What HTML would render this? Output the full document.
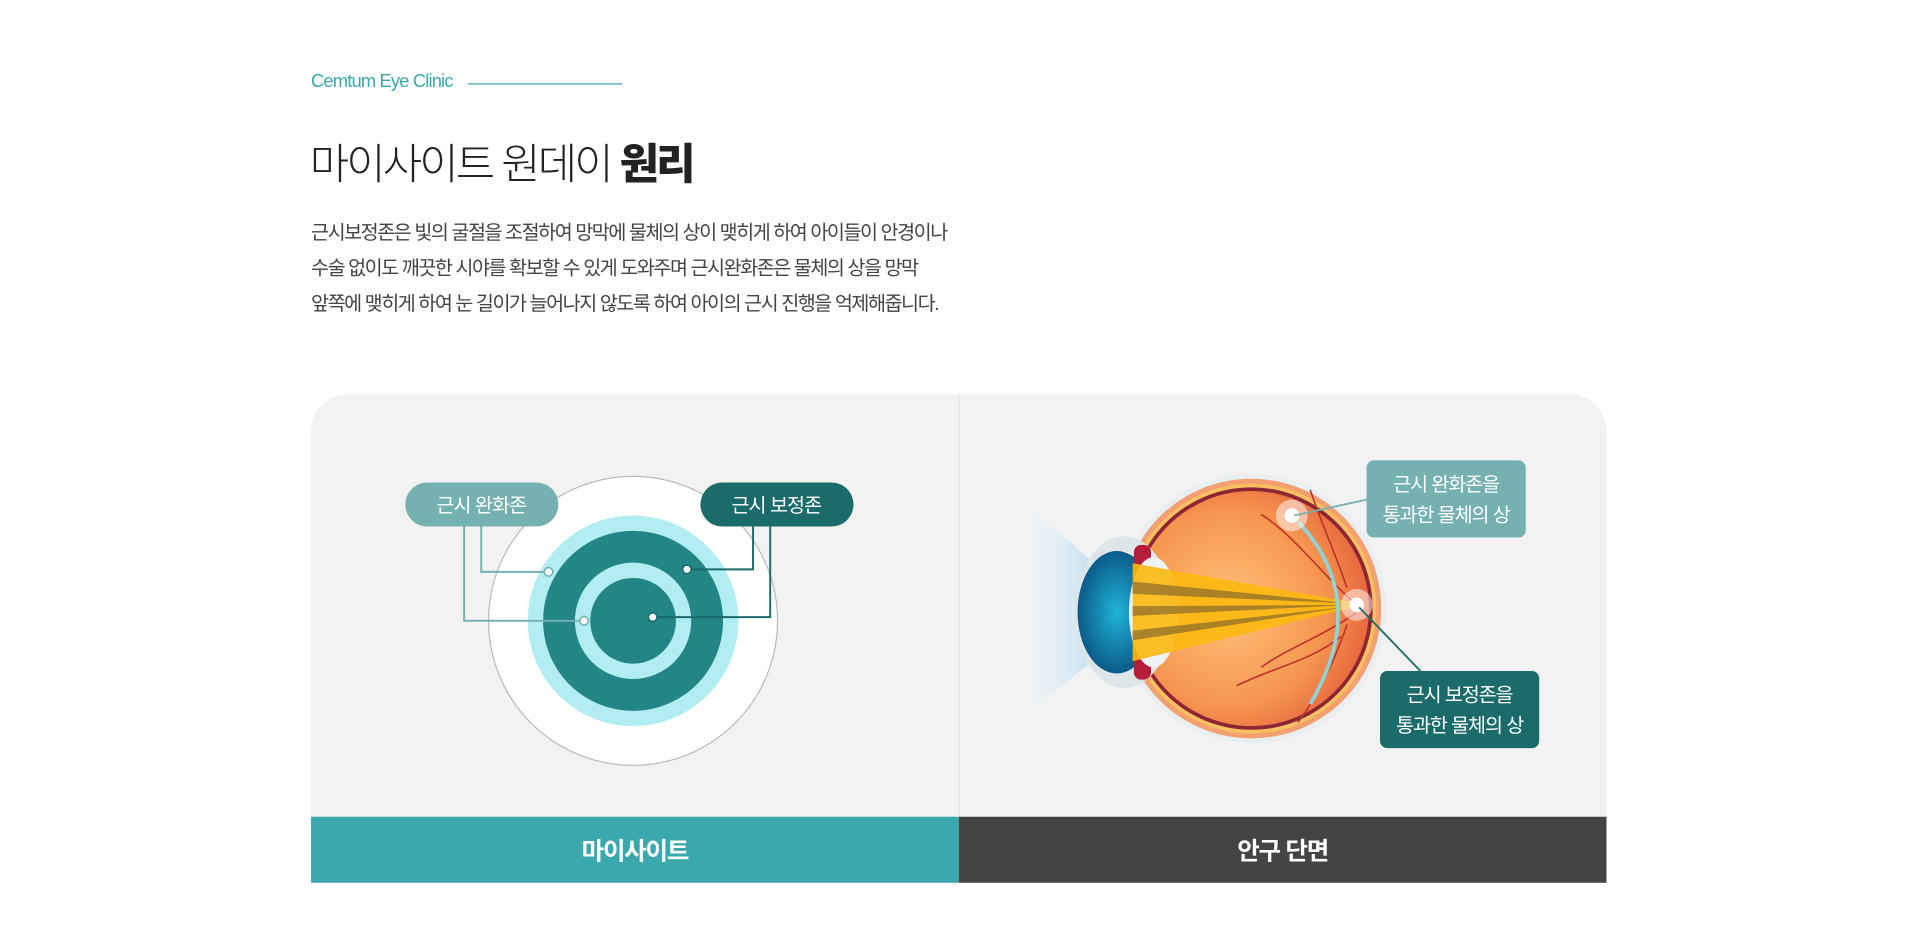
<!DOCTYPE html>
<html><head><meta charset="utf-8"><style>
html,body{margin:0;padding:0;background:#fff;width:1920px;height:924px;overflow:hidden}
#w{position:absolute;left:0;top:0;width:1568px;height:755px;transform:scale(1.22449);transform-origin:0 0;font-family:"Liberation Sans","Noto Sans CJK KR",sans-serif}
.a{position:absolute}
</style></head><body><div id="w">
<div class="a" style="left:254px;top:58px;font-size:15px;color:#3aa8ad;letter-spacing:-0.7px">Cemtum Eye Clinic</div>
<div class="a" style="left:382px;top:68px;width:126px;height:1px;background:#3aa8ad"></div>
<div class="a" style="left:253px;top:106px;font-size:35px;color:#222;font-weight:300;letter-spacing:-2.4px">마이사이트 원데이 <b style="font-weight:900">원리</b></div>
<div class="a" style="left:254px;top:176px;font-size:16px;line-height:29px;color:#444;letter-spacing:-1.2px">근시보정존은 빛의 굴절을 조절하여 망막에 물체의 상이 맺히게 하여 아이들이 안경이나<br>수술 없이도 깨끗한 시야를 확보할 수 있게 도와주며 근시완화존은 물체의 상을 망막<br>앞쪽에 맺히게 하여 눈 길이가 늘어나지 않도록 하여 아이의 근시 진행을 억제해줍니다.</div>
<div class="a" style="left:254px;top:322px;width:1058px;height:399px;background:#f2f2f2;border-radius:30px 30px 0 0;overflow:hidden">
<div class="a" style="left:529px;top:0;width:1px;height:345px;background:#e6e6e6"></div>
<div class="a" style="left:0;top:345px;width:529px;height:54px;background:#3aa8ad;color:#fff;font-size:20px;font-weight:bold;text-align:center;line-height:58px;letter-spacing:-1px">마이사이트</div>
<div class="a" style="left:529px;top:345px;width:529px;height:54px;background:#444;color:#fff;font-size:20px;font-weight:bold;text-align:center;line-height:58px;letter-spacing:-1px">안구 단면</div>
</div>
<svg class="a" style="left:0;top:0" width="1568" height="755" viewBox="0 0 1568 755">
<circle cx="517" cy="507" r="118" fill="#fff" stroke="#bbb" stroke-width="1"/>
<circle cx="517" cy="507" r="86" fill="#b2eef1"/>
<circle cx="517" cy="507" r="73.5" fill="#238585"/>
<circle cx="517" cy="507" r="47.5" fill="#b2eef1"/>
<circle cx="517" cy="507" r="35" fill="#238585"/>
<g fill="none" stroke="#76b1b2" stroke-width="1.6">
<polyline points="393,430 393,467 448,467"/>
<polyline points="379,430 379,507 477,507"/>
</g>
<g fill="none" stroke="#1a6b6a" stroke-width="1.6">
<polyline points="615,430 615,465 561,465"/>
<polyline points="629,430 629,504 533,504"/>
</g>
<circle cx="448" cy="467" r="3.5" fill="#fff" stroke="#76b1b2" stroke-width="1.3"/>
<circle cx="477" cy="507" r="3.5" fill="#fff" stroke="#76b1b2" stroke-width="1.3"/>
<circle cx="561" cy="465" r="3.5" fill="#fff" stroke="#1a6b6a" stroke-width="1.3"/>
<circle cx="533" cy="504" r="3.5" fill="#fff" stroke="#1a6b6a" stroke-width="1.3"/>
<rect x="331" y="394" width="125" height="36" rx="18" fill="#76b1b2"/>
<rect x="572" y="394" width="125" height="36" rx="18" fill="#1a6b6a"/>
<g font-size="16" fill="#fff" text-anchor="middle" font-family="Liberation Sans,Noto Sans CJK KR,sans-serif" letter-spacing="-0.8">
<text x="393" y="418">근시 완화존</text>
<text x="634" y="418">근시 보정존</text>
</g>
<defs>
<linearGradient id="cone" x1="0" x2="1"><stop offset="0" stop-color="#e6f3fa" stop-opacity="0.2"/><stop offset="1" stop-color="#aed8f0"/></linearGradient>
<radialGradient id="org" cx="0.4" cy="0.5" r="0.6"><stop offset="0" stop-color="#ffc27a"/><stop offset="0.7" stop-color="#f5954f"/><stop offset="1" stop-color="#e8683e"/></radialGradient>
<radialGradient id="iris" cx="0.5" cy="0.5" r="0.5"><stop offset="0" stop-color="#1fb4d8"/><stop offset="1" stop-color="#0c5a8a"/></radialGradient>
</defs>
<polygon points="842,415 905,470 905,530 842,580" fill="url(#cone)"/>
<circle cx="1022" cy="497" r="110" fill="#e9eef1"/>
<circle cx="1022" cy="497" r="106" fill="#f2a070"/>
<circle cx="1022" cy="497" r="102" fill="#f7c061"/>
<circle cx="1022" cy="497" r="99" fill="#8d2535"/>
<circle cx="1022" cy="497" r="96" fill="url(#org)"/>
<ellipse cx="918" cy="500" rx="40" ry="62" fill="#dfe6ea"/>
<ellipse cx="912" cy="500" rx="32" ry="50" fill="url(#iris)"/>
<rect x="926" y="445" width="14" height="110" rx="6" fill="#b51e3b"/>
<ellipse cx="942" cy="500" rx="20" ry="45" fill="#eef2f6"/>
<polygon points="925,460 1105,492 1105,496 925,540" fill="#fbb90f" opacity="0.9"/>
<polygon points="925,475 1105,493 925,485" fill="#8a6a2a" opacity="0.7"/>
<polygon points="925,495 1105,494 925,503" fill="#8a6a2a" opacity="0.7"/>
<polygon points="925,515 1105,495 925,523" fill="#8a6a2a" opacity="0.7"/>
<g stroke="#c0302a" stroke-width="1.3" fill="none">
<path d="M1108,494 C1080,470 1060,440 1030,420"/><path d="M1100,480 C1090,450 1080,430 1070,400"/>
<path d="M1108,500 C1080,520 1050,530 1030,545"/><path d="M1100,510 C1090,540 1075,570 1060,590"/>
<path d="M1095,520 C1070,540 1040,545 1010,560"/>
</g>
<path d="M1060,426 Q1120,490 1070,575" stroke="#8fd3d6" stroke-width="3" fill="none"/>
<circle cx="1055" cy="421" r="13" fill="#fff" opacity="0.5"/><circle cx="1055" cy="421" r="6" fill="#fff"/>
<circle cx="1108" cy="494" r="13" fill="#fff" opacity="0.5"/><circle cx="1108" cy="494" r="6" fill="#fff"/>
<line x1="1057" y1="421" x2="1116" y2="408" stroke="#76b1b2" stroke-width="1.5"/>
<line x1="1110" y1="496" x2="1160" y2="548" stroke="#1a6b6a" stroke-width="1.5"/>
<rect x="1116" y="376" width="130" height="63" rx="6" fill="#76b1b2"/>
<rect x="1127" y="548" width="130" height="63" rx="6" fill="#1a6b6a"/>
<g font-size="16" fill="#fff" text-anchor="middle" font-family="Liberation Sans,Noto Sans CJK KR,sans-serif" letter-spacing="-0.9">
<text x="1181" y="401">근시 완화존을</text><text x="1181" y="426">통과한 물체의 상</text>
<text x="1192" y="573">근시 보정존을</text><text x="1192" y="598">통과한 물체의 상</text>
</g>
</svg>
</div></body></html>
